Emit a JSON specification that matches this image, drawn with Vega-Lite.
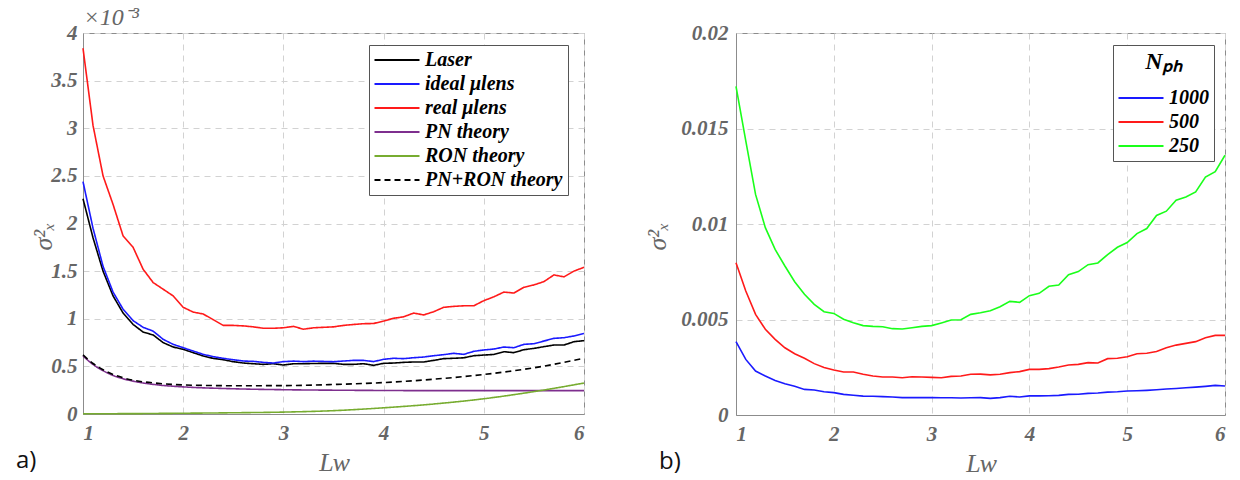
{
  "$schema": "https://vega.github.io/schema/vega-lite/v6.json",
  "padding": {"left": 15, "top": 4, "right": 4, "bottom": 0},
  "background": "white",
  "spacing": 55,
  "resolve": {"scale": {"color": "independent", "strokeDash": "independent"}, "legend": {"color": "independent", "strokeDash": "independent"}},
  "datasets": {
    "meas": [
      {"x":1.0,"Laser":2.26,"ideal μlens":2.44,"real μlens":3.84},
      {"x":1.1,"Laser":1.85,"ideal μlens":1.95,"real μlens":3.03},
      {"x":1.2,"Laser":1.50,"ideal μlens":1.55,"real μlens":2.50},
      {"x":1.3,"Laser":1.24,"ideal μlens":1.28,"real μlens":2.20},
      {"x":1.4,"Laser":1.06,"ideal μlens":1.10,"real μlens":1.87},
      {"x":1.5,"Laser":0.94,"ideal μlens":0.98,"real μlens":1.75},
      {"x":1.6,"Laser":0.86,"ideal μlens":0.91,"real μlens":1.52},
      {"x":1.7,"Laser":0.83,"ideal μlens":0.87,"real μlens":1.38},
      {"x":1.8,"Laser":0.749,"ideal μlens":0.784,"real μlens":1.31},
      {"x":1.9,"Laser":0.703,"ideal μlens":0.731,"real μlens":1.24},
      {"x":2.0,"Laser":0.679,"ideal μlens":0.696,"real μlens":1.12},
      {"x":2.1,"Laser":0.644,"ideal μlens":0.661,"real μlens":1.07},
      {"x":2.2,"Laser":0.609,"ideal μlens":0.626,"real μlens":1.05},
      {"x":2.3,"Laser":0.584,"ideal μlens":0.602,"real μlens":0.99},
      {"x":2.4,"Laser":0.570,"ideal μlens":0.584,"real μlens":0.93},
      {"x":2.5,"Laser":0.549,"ideal μlens":0.570,"real μlens":0.93},
      {"x":2.6,"Laser":0.535,"ideal μlens":0.556,"real μlens":0.925},
      {"x":2.7,"Laser":0.528,"ideal μlens":0.553,"real μlens":0.915},
      {"x":2.8,"Laser":0.521,"ideal μlens":0.542,"real μlens":0.90},
      {"x":2.9,"Laser":0.528,"ideal μlens":0.535,"real μlens":0.90},
      {"x":3.0,"Laser":0.514,"ideal μlens":0.550,"real μlens":0.905},
      {"x":3.1,"Laser":0.528,"ideal μlens":0.555,"real μlens":0.92},
      {"x":3.2,"Laser":0.528,"ideal μlens":0.550,"real μlens":0.89},
      {"x":3.3,"Laser":0.530,"ideal μlens":0.555,"real μlens":0.905},
      {"x":3.4,"Laser":0.532,"ideal μlens":0.552,"real μlens":0.91},
      {"x":3.5,"Laser":0.532,"ideal μlens":0.549,"real μlens":0.915},
      {"x":3.6,"Laser":0.521,"ideal μlens":0.556,"real μlens":0.93},
      {"x":3.7,"Laser":0.521,"ideal μlens":0.563,"real μlens":0.94},
      {"x":3.8,"Laser":0.528,"ideal μlens":0.563,"real μlens":0.948},
      {"x":3.9,"Laser":0.511,"ideal μlens":0.550,"real μlens":0.95},
      {"x":4.0,"Laser":0.532,"ideal μlens":0.574,"real μlens":0.976},
      {"x":4.1,"Laser":0.535,"ideal μlens":0.585,"real μlens":1.005},
      {"x":4.2,"Laser":0.542,"ideal μlens":0.581,"real μlens":1.02},
      {"x":4.3,"Laser":0.546,"ideal μlens":0.591,"real μlens":1.06},
      {"x":4.4,"Laser":0.546,"ideal μlens":0.598,"real μlens":1.04},
      {"x":4.5,"Laser":0.563,"ideal μlens":0.612,"real μlens":1.074},
      {"x":4.6,"Laser":0.581,"ideal μlens":0.623,"real μlens":1.12},
      {"x":4.7,"Laser":0.585,"ideal μlens":0.637,"real μlens":1.13},
      {"x":4.8,"Laser":0.590,"ideal μlens":0.626,"real μlens":1.136},
      {"x":4.9,"Laser":0.612,"ideal μlens":0.658,"real μlens":1.136},
      {"x":5.0,"Laser":0.619,"ideal μlens":0.672,"real μlens":1.19},
      {"x":5.1,"Laser":0.625,"ideal μlens":0.682,"real μlens":1.23},
      {"x":5.2,"Laser":0.654,"ideal μlens":0.703,"real μlens":1.28},
      {"x":5.3,"Laser":0.644,"ideal μlens":0.696,"real μlens":1.27},
      {"x":5.4,"Laser":0.675,"ideal μlens":0.731,"real μlens":1.33},
      {"x":5.5,"Laser":0.689,"ideal μlens":0.738,"real μlens":1.355},
      {"x":5.6,"Laser":0.707,"ideal μlens":0.766,"real μlens":1.39},
      {"x":5.7,"Laser":0.724,"ideal μlens":0.794,"real μlens":1.46},
      {"x":5.8,"Laser":0.724,"ideal μlens":0.801,"real μlens":1.44},
      {"x":5.9,"Laser":0.759,"ideal μlens":0.819,"real μlens":1.50},
      {"x":6.0,"Laser":0.770,"ideal μlens":0.845,"real μlens":1.54}
    ],
    "theory": [
      {"x":1.0,"PN theory":0.61,"RON theory":0.002,"PN+RON theory":0.62},
      {"x":1.1,"PN theory":0.52,"RON theory":0.002,"PN+RON theory":0.53},
      {"x":1.2,"PN theory":0.455,"RON theory":0.003,"PN+RON theory":0.465},
      {"x":1.3,"PN theory":0.405,"RON theory":0.003,"PN+RON theory":0.415},
      {"x":1.4,"PN theory":0.37,"RON theory":0.004,"PN+RON theory":0.38},
      {"x":1.5,"PN theory":0.345,"RON theory":0.004,"PN+RON theory":0.355},
      {"x":1.75,"PN theory":0.305,"RON theory":0.006,"PN+RON theory":0.322},
      {"x":2.0,"PN theory":0.285,"RON theory":0.008,"PN+RON theory":0.305},
      {"x":2.5,"PN theory":0.265,"RON theory":0.013,"PN+RON theory":0.297},
      {"x":3.0,"PN theory":0.255,"RON theory":0.02,"PN+RON theory":0.298},
      {"x":3.5,"PN theory":0.25,"RON theory":0.035,"PN+RON theory":0.31},
      {"x":4.0,"PN theory":0.247,"RON theory":0.065,"PN+RON theory":0.33},
      {"x":4.5,"PN theory":0.245,"RON theory":0.105,"PN+RON theory":0.365},
      {"x":5.0,"PN theory":0.245,"RON theory":0.16,"PN+RON theory":0.415},
      {"x":5.5,"PN theory":0.245,"RON theory":0.235,"PN+RON theory":0.485},
      {"x":6.0,"PN theory":0.245,"RON theory":0.325,"PN+RON theory":0.585}
    ],
    "nph": [
      {"x":1.0,"1000":0.00384,"500":0.00797,"250":0.0172},
      {"x":1.1,"1000":0.00291,"500":0.00649,"250":0.01435},
      {"x":1.2,"1000":0.00230,"500":0.00527,"250":0.01155},
      {"x":1.3,"1000":0.00204,"500":0.00449,"250":0.00981},
      {"x":1.4,"1000":0.00181,"500":0.00396,"250":0.00867},
      {"x":1.5,"1000":0.00164,"500":0.00352,"250":0.00780},
      {"x":1.6,"1000":0.00150,"500":0.00321,"250":0.00698},
      {"x":1.7,"1000":0.00134,"500":0.00297,"250":0.00632},
      {"x":1.8,"1000":0.00131,"500":0.00269,"250":0.00579},
      {"x":1.9,"1000":0.00122,"500":0.00249,"250":0.00541},
      {"x":2.0,"1000":0.00117,"500":0.00236,"250":0.00532},
      {"x":2.1,"1000":0.00108,"500":0.00225,"250":0.00501},
      {"x":2.2,"1000":0.00103,"500":0.00225,"250":0.00483},
      {"x":2.3,"1000":0.00099,"500":0.00213,"250":0.00468},
      {"x":2.4,"1000":0.00098,"500":0.00204,"250":0.00464},
      {"x":2.5,"1000":0.00096,"500":0.00199,"250":0.00462},
      {"x":2.6,"1000":0.00094,"500":0.00199,"250":0.00452},
      {"x":2.7,"1000":0.00091,"500":0.00195,"250":0.00450},
      {"x":2.8,"1000":0.00092,"500":0.00200,"250":0.00457},
      {"x":2.9,"1000":0.00091,"500":0.00199,"250":0.00464},
      {"x":3.0,"1000":0.00091,"500":0.00197,"250":0.00468},
      {"x":3.1,"1000":0.00090,"500":0.00195,"250":0.00482},
      {"x":3.2,"1000":0.00090,"500":0.00202,"250":0.00497},
      {"x":3.3,"1000":0.00089,"500":0.00204,"250":0.00499},
      {"x":3.4,"1000":0.00090,"500":0.00213,"250":0.00527},
      {"x":3.5,"1000":0.00091,"500":0.00214,"250":0.00535},
      {"x":3.6,"1000":0.00087,"500":0.00210,"250":0.00546},
      {"x":3.7,"1000":0.00091,"500":0.00213,"250":0.00567},
      {"x":3.8,"1000":0.00098,"500":0.00222,"250":0.00595},
      {"x":3.9,"1000":0.00094,"500":0.00227,"250":0.00590},
      {"x":4.0,"1000":0.00100,"500":0.00239,"250":0.00625},
      {"x":4.1,"1000":0.00100,"500":0.00239,"250":0.00637},
      {"x":4.2,"1000":0.00101,"500":0.00243,"250":0.00674},
      {"x":4.3,"1000":0.00103,"500":0.00251,"250":0.00681},
      {"x":4.4,"1000":0.00108,"500":0.00262,"250":0.00735},
      {"x":4.5,"1000":0.00109,"500":0.00265,"250":0.00751},
      {"x":4.6,"1000":0.00113,"500":0.00274,"250":0.00787},
      {"x":4.7,"1000":0.00115,"500":0.00272,"250":0.00796},
      {"x":4.8,"1000":0.00120,"500":0.00295,"250":0.00840},
      {"x":4.9,"1000":0.00122,"500":0.00297,"250":0.00878},
      {"x":5.0,"1000":0.00126,"500":0.00305,"250":0.00903},
      {"x":5.1,"1000":0.00127,"500":0.00321,"250":0.00950},
      {"x":5.2,"1000":0.00129,"500":0.00323,"250":0.00976},
      {"x":5.3,"1000":0.00132,"500":0.00332,"250":0.01045},
      {"x":5.4,"1000":0.00136,"500":0.00352,"250":0.01067},
      {"x":5.5,"1000":0.00139,"500":0.00366,"250":0.01124},
      {"x":5.6,"1000":0.00143,"500":0.00375,"250":0.01141},
      {"x":5.7,"1000":0.00146,"500":0.00384,"250":0.01168},
      {"x":5.8,"1000":0.00150,"500":0.00405,"250":0.01246},
      {"x":5.9,"1000":0.00155,"500":0.00417,"250":0.01274},
      {"x":6.0,"1000":0.00152,"500":0.00417,"250":0.01360}
    ]
  },
  "hconcat": [
    {
      "width": 501,
      "height": 381,
      "title": {"text": "a)", "orient": "bottom", "anchor": "start", "frame": "group", "dx": -67, "dy": -30, "font": "Open Sans", "fontSize": 24, "fontWeight": "normal", "color": "#111"},
      "resolve": {"axis": {"x": "independent"}},
      "layer": [
        {
          "data": {"name": "meas"},
          "transform": [{"fold": ["Laser", "ideal μlens", "real μlens"], "as": ["s", "v"]}],
          "mark": {"type": "line", "strokeWidth": 1.6},
          "encoding": {
            "x": {"field": "x", "type": "quantitative", "scale": {"domain": [1, 6], "nice": false},
                  "axis": {"values": [1,2,3,4,5,6], "title": "Lᴡ", "titlePadding": 6, "labelPadding": 8}},
            "y": {"field": "v", "type": "quantitative", "scale": {"domain": [0, 4], "nice": false},
                  "axis": {"values": [0,0.5,1,1.5,2,2.5,3,3.5,4], "format": "~g", "title": "σ²ₓ", "titleX": -27, "titleY": 203, "labelPadding": 6}},
            "color": {"field": "s", "type": "nominal", "title": null,
                      "scale": {"domain": ["Laser","ideal μlens","real μlens","PN theory","RON theory","PN+RON theory"],
                                "range": ["#000000","#1a1aff","#ff1a1a","#7e2f8e","#77ac30","#000000"]},
                      "legend": {"orient": "none", "legendX": 286, "legendY": 12}},
            "strokeDash": {"field": "s", "type": "nominal", "title": null,
                      "scale": {"domain": ["Laser","ideal μlens","real μlens","PN theory","RON theory","PN+RON theory"],
                                "range": [[1,0],[1,0],[1,0],[1,0],[1,0],[6,4]]},
                      "legend": {"orient": "none", "legendX": 286, "legendY": 12}}
          }
        },
        {
          "data": {"name": "theory"},
          "transform": [{"fold": ["PN theory", "RON theory", "PN+RON theory"], "as": ["s", "v"]}],
          "mark": {"type": "line", "strokeWidth": 1.6, "interpolate": "monotone"},
          "encoding": {
            "x": {"field": "x", "type": "quantitative",
                  "axis": {"orient": "top", "title": "×10⁻³", "labels": false, "ticks": false, "domain": false, "grid": false,
                           "titleAnchor": "start", "titleAlign": "left", "titlePadding": 4, "titleFontSize": 24}},
            "y": {"field": "v", "type": "quantitative"},
            "color": {"field": "s", "type": "nominal", "title": null},
            "strokeDash": {"field": "s", "type": "nominal", "title": null}
          }
        }
      ]
    },
    {
      "width": 489,
      "height": 382,
      "title": {"text": "b)", "orient": "bottom", "anchor": "start", "frame": "group", "dx": -77, "dy": -30, "font": "Open Sans", "fontSize": 24, "fontWeight": "normal", "color": "#111"},
      "data": {"name": "nph"},
      "transform": [{"fold": ["1000", "500", "250"], "as": ["n", "v"]}],
      "mark": {"type": "line", "strokeWidth": 1.6},
      "encoding": {
        "x": {"field": "x", "type": "quantitative", "scale": {"domain": [1, 6], "nice": false},
              "axis": {"values": [1,2,3,4,5,6], "title": "Lᴡ", "titlePadding": 6, "labelPadding": 8}},
        "y": {"field": "v", "type": "quantitative", "scale": {"domain": [0, 0.02], "nice": false},
              "axis": {"values": [0,0.005,0.01,0.015,0.02], "format": "~g", "title": "σ²ₓ", "titleX": -66, "titleY": 203, "labelPadding": 8}},
        "color": {"field": "n", "type": "nominal", "title": "Nₚₕ",
                  "scale": {"domain": ["1000","500","250"], "range": ["#1a1aff","#ff1a1a","#1aff1a"]},
                  "legend": {"orient": "none", "legendX": 377, "legendY": 12, "titleAnchor": "middle", "titleFontSize": 24, "titlePadding": 14}}
      }
    }
  ],
  "config": {
    "view": {"stroke": "#8c8c8c", "strokeWidth": 1},
    "axis": {
      "labelFont": "Liberation Serif", "labelFontStyle": "italic", "labelFontWeight": "bold", "labelFontSize": 21, "labelColor": "#666666",
      "domainColor": "#8c8c8c", "ticks": false, "gridColor": "#d2d2d2", "gridDash": [6, 5], "gridWidth": 1,
      "titleFont": "Liberation Serif", "titleFontStyle": "italic", "titleFontWeight": "normal", "titleColor": "#666666", "titleFontSize": 26
    },
    "legend": {
      "fillColor": "white", "strokeColor": "#555555", "padding": 5, "cornerRadius": 0,
      "labelFont": "Liberation Serif", "labelFontStyle": "italic", "labelFontWeight": "bold", "labelFontSize": 20, "labelColor": "#000000",
      "titleFont": "Liberation Serif", "titleFontStyle": "italic", "titleFontWeight": "bold", "titleColor": "#000000",
      "symbolType": "M-2.5,0H2.5", "symbolSize": 324, "symbolStrokeWidth": 2, "symbolOffset": 13, "rowPadding": 4, "labelOffset": 18, "labelLimit": 300
    }
  }
}
